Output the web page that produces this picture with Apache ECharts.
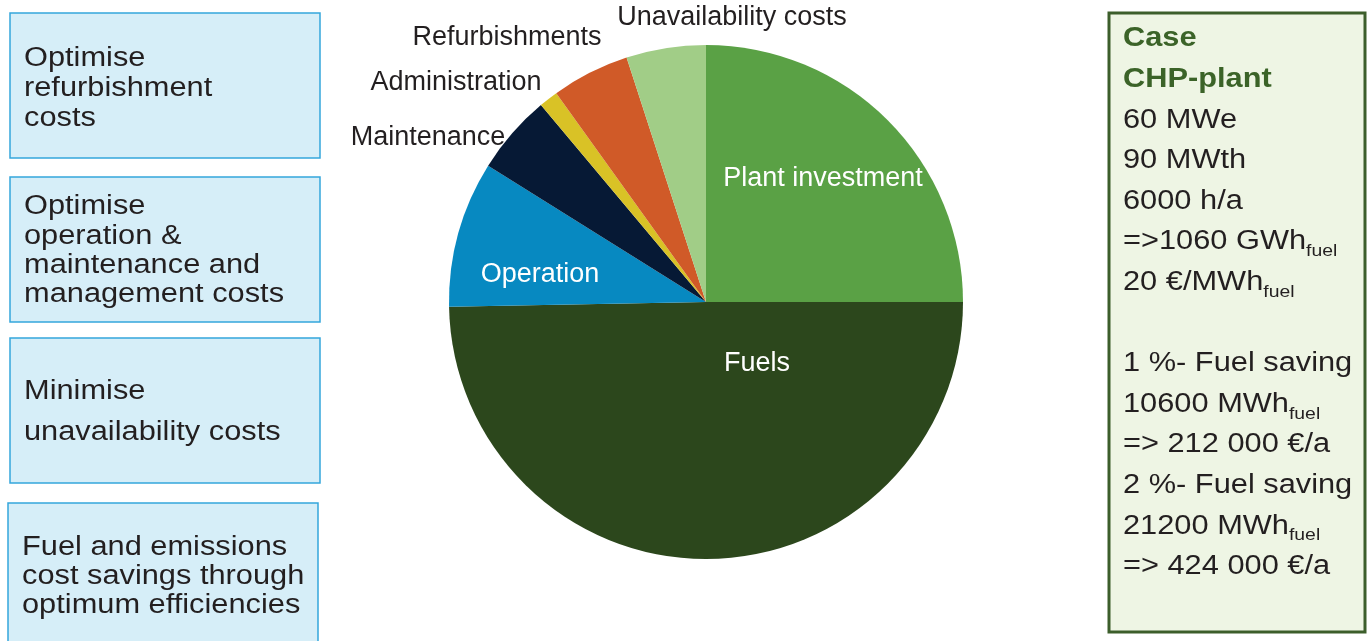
<!DOCTYPE html>
<html><head><meta charset="utf-8">
<script src="https://cdn.jsdelivr.net/npm/echarts@6/dist/echarts.min.js"></script>
<style>html,body{margin:0;padding:0;background:#fff}#c{width:1369px;height:641px}</style>
</head><body><div id="c"></div>
<script>
// ---- data ----
const categories = ['Plant investment','Fuels','Operation','Maintenance','Administration','Refurbishments','Unavailability costs'];
const shares = [25.0, 49.7, 9.2, 5.0, 1.2, 4.9, 5.0];
const leftBoxLines = [
  ['Optimise','refurbishment','costs'],
  ['Optimise','operation &','maintenance and','management costs'],
  ['Minimise','unavailability costs'],
  ['Fuel and emissions','cost savings through','optimum efficiencies']
];
const caseTitle = ['Case','CHP-plant'];
const caseLines = ['60 MWe','90 MWth','6000 h/a','=>1060 GWh{sub|fuel}','20 €/MWh{sub|fuel}','',
  '1 %- Fuel saving','10600 MWh{sub|fuel}','=> 212 000 €/a','2 %- Fuel saving','21200 MWh{sub|fuel}','=> 424 000 €/a'];

// ---- styles / layout ----
const sliceColors = ['#5aa145','#2c471c','#0789c1','#061935','#d9c226','#d05a28','#a1cd87'];
const labelColors = ['#ffffff','#ffffff','#ffffff','#231f20','#231f20','#231f20','#231f20'];
const labelPos = [[823,179],[757,364],[540,275],[428,138],[456,83],[507,38],[732,18]];
const boxRects = [[10,13,310,145],[10,177,310,145],[10,338,310,145],[8,503,310,150]];
const boxTextX = [24,24,24,22];
const boxLineY = [[59,89,119],[207,237,266,295],[392,433],[548,577,606]];
const FONT = '"Liberation Sans", Arial, Helvetica, sans-serif';

const chart = echarts.init(document.getElementById('c'));
const graphic = [];
boxRects.forEach((r, i) => {
  graphic.push({type:'rect', shape:{x:r[0], y:r[1], width:r[2], height:r[3]},
    style:{fill:'#d6eef8', stroke:'#34a6dc', lineWidth:1.5}, z:1});
  leftBoxLines[i].forEach((t, j) => {
    graphic.push({type:'text', x:boxTextX[i], y:boxLineY[i][j], scaleX:1.14, z:2,
      style:{text:t, x:0, y:0, fill:'#231f20', fontSize:27, fontFamily:FONT, textVerticalAlign:'middle', textAlign:'left'}});
  });
});
graphic.push({type:'rect', shape:{x:1109, y:13, width:256, height:619},
  style:{fill:'#eef5e4', stroke:'#3c5e2b', lineWidth:3}, z:1});
const lineStep = 40.6;
caseTitle.concat(caseLines).forEach((t, i) => {
  if (!t) return;
  const bold = i < caseTitle.length;
  graphic.push({type:'text', x:1123, y:39 + i*lineStep, scaleX:1.14, z:2,
    style:{text:t, x:0, y:0, fill: bold ? '#3b6328' : '#231f20', fontSize:27, fontWeight: bold ? 'bold' : 'normal',
      fontFamily:FONT, textVerticalAlign:'middle', textAlign:'left', lineHeight:36,
      rich:{sub:{fontSize:17, fontFamily:FONT, fill:'#231f20', verticalAlign:'bottom', lineHeight:16}}}});
});

chart.setOption({
  backgroundColor:'#ffffff',
  animation:false,
  graphic: graphic,
  series:[{
    type:'pie',
    center:[706,302],
    radius:257,
    startAngle:90,
    clockwise:true,
    avoidLabelOverlap:false,
    itemStyle:{borderWidth:0},
    label:{show:true, position:'inside', fontSize:27, fontFamily:FONT, formatter:'{b}'},
    labelLine:{show:false},
    emphasis:{disabled:true},
    labelLayout: function(p){
      const pos = labelPos[p.dataIndex];
      return {x:pos[0], y:pos[1], align:'center', verticalAlign:'middle'};
    },
    data: categories.map((c, i) => ({name:c, value:shares[i],
      itemStyle:{color:sliceColors[i]}, label:{color:labelColors[i]}}))
  }]
});
</script></body></html>
